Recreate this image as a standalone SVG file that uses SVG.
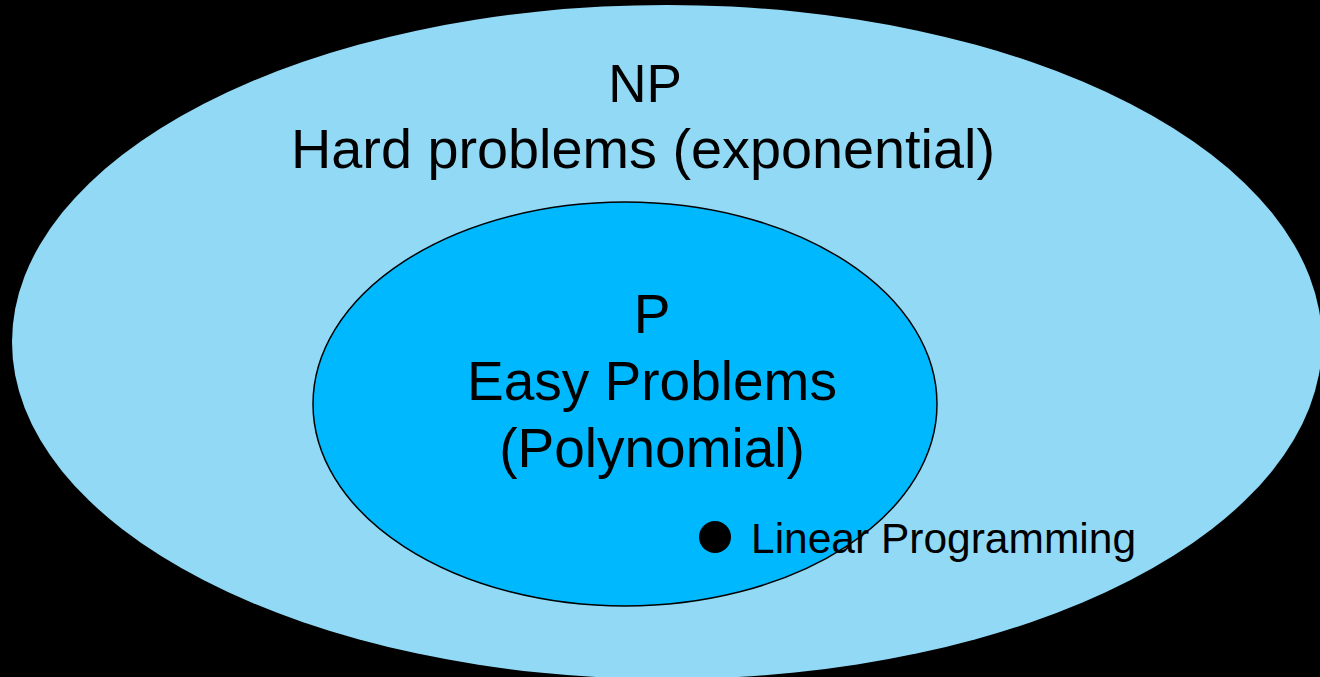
<svg xmlns="http://www.w3.org/2000/svg" width="1320" height="677" viewBox="0 0 1320 677">
<style>
text{font-family:"Liberation Sans",Arial,sans-serif;fill:#000;text-anchor:middle}
.big{font-size:55px}
.small{font-size:42.5px;text-anchor:start}
</style>
<rect x="0" y="0" width="1320" height="677" fill="#000"/>
<g id="np">
<ellipse cx="667" cy="342" rx="655" ry="337" fill="#92d9f5"/>
<text class="big" x="645" y="102" style="font-size:53px">NP</text>
<text class="big" x="643" y="168" style="font-size:55.8px">Hard problems (exponential)</text>
</g>
<g id="p">
<ellipse cx="625" cy="404" rx="312" ry="202" fill="#00b8fd" stroke="#000" stroke-width="1.5"/>
<text class="big" x="652" y="333">P</text>
<text class="big" x="652" y="400">Easy Problems</text>
<text class="big" x="652" y="467">(Polynomial)</text>
</g>
<g id="lp">
<circle cx="715" cy="537" r="16" fill="#000"/>
<text class="small" x="751" y="553">Linear Programming</text>
</g>
<g id="connectors"/>
</svg>
